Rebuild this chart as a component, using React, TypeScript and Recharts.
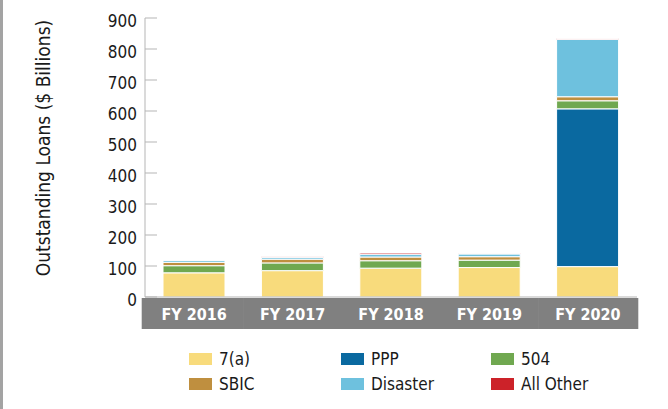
import React from 'react'
import { BarChart, Bar, XAxis, YAxis, Label } from 'recharts'

const years = ['FY 2016', 'FY 2017', 'FY 2018', 'FY 2019', 'FY 2020']
const sevenA = [78, 85, 93, 95, 98]
const ppp = [0, 0, 0, 0, 509]
const fiveOhFour = [23, 25, 24, 24, 26]
const sbic = [11, 12, 12, 11, 13]
const disaster = [6, 6, 9, 9, 185]
const allOther = [1, 3, 4, 1, 3]
const yTicks = [0, 100, 200, 300, 400, 500, 600, 700, 800, 900]

const series = [
  { key: 'sevenA', name: '7(a)', color: '#f8db7c' },
  { key: 'ppp', name: 'PPP', color: '#0a69a0' },
  { key: 'fiveOhFour', name: '504', color: '#70a850' },
  { key: 'sbic', name: 'SBIC', color: '#bf8f3f' },
  { key: 'disaster', name: 'Disaster', color: '#6ec1de' },
  { key: 'allOther', name: 'All Other', color: '#cc2229' },
]

const data = years.map((year, i) => ({
  year,
  sevenA: sevenA[i],
  ppp: ppp[i],
  fiveOhFour: fiveOhFour[i],
  sbic: sbic[i],
  disaster: disaster[i],
  allOther: allOther[i],
}))

const FONT = "'DejaVu Sans Condensed', 'Liberation Sans', sans-serif"

function YTick(props: any) {
  const { x, y, payload } = props
  return (
    <g>
      <line x1={x + 8} x2={x + 20} y1={y} y2={y} stroke="#b5b5b5" strokeWidth={1} />
      <text x={x} y={y + 3} textAnchor="end" dominantBaseline="central" fill="#1a1a1a" fontSize={17} fontFamily={FONT}>
        {payload.value}
      </text>
    </g>
  )
}

function XTick(props: any) {
  const { x, y, payload, index } = props
  const half = 49.5
  const left = index === 0 ? x - half - 3 : x - half
  const right = index === years.length - 1 ? x + half + 1 : x + half
  return (
    <g>
      <rect x={left} y={y + 1} width={right - left} height={31} fill="#808080" />
      <text x={x} y={y + 17} textAnchor="middle" dominantBaseline="central" fill="#ffffff" fontSize={16} fontWeight="bold" fontFamily={FONT}>
        {payload.value}
      </text>
    </g>
  )
}

function LegendBox() {
  return (
    <div style={{ position: 'absolute', left: 189, top: 350, display: 'grid', gridTemplateColumns: '152px 150px 150px', rowGap: 7, fontFamily: FONT, fontSize: 17, color: '#1a1a1a' }}>
      {series.map((s) => (
        <div key={s.key} style={{ display: 'flex', alignItems: 'center', height: 18 }}>
          <span style={{ display: 'inline-block', width: 23, height: 12, background: s.color, marginRight: 7 }} />
          <span>{s.name}</span>
        </div>
      ))}
    </div>
  )
}

export default function App() {
  return (
    <div style={{ position: 'absolute', left: 0, top: 0, width: 668, height: 409, background: '#fff' }}>
      <div style={{ position: 'absolute', left: 0, top: 0, width: 3, height: 409, background: '#a3a3a3' }} />
      <BarChart width={668} height={409} data={data} margin={{ top: 18, right: 31, left: 0, bottom: 82 }} barSize={62}>
        <YAxis
          width={145}
          domain={[0, 900]}
          ticks={yTicks}
          interval={0}
          tickLine={false}
          tickSize={0}
          tickMargin={8}
          axisLine={{ stroke: '#b5b5b5' }}
          tick={<YTick />}
        >
          <Label
            content={() => (
              <text x={43} y={148} transform="rotate(-90 43 148)" textAnchor="middle" dominantBaseline="central" fill="#1a1a1a" fontSize={19} fontFamily={FONT}>
                Outstanding Loans ($ Billions)
              </text>
            )}
          />
        </YAxis>
        <XAxis dataKey="year" height={30} tickLine={false} tickSize={0} tickMargin={0} axisLine={{ stroke: '#b5b5b5' }} tick={<XTick />} interval={0} />
        {series.map((s) => (
          <Bar key={s.key} dataKey={s.key} name={s.name} stackId="a" fill={s.color} stroke="#ffffff" strokeWidth={1} isAnimationActive={false} />
        ))}
      </BarChart>
      <LegendBox />
    </div>
  )
}
